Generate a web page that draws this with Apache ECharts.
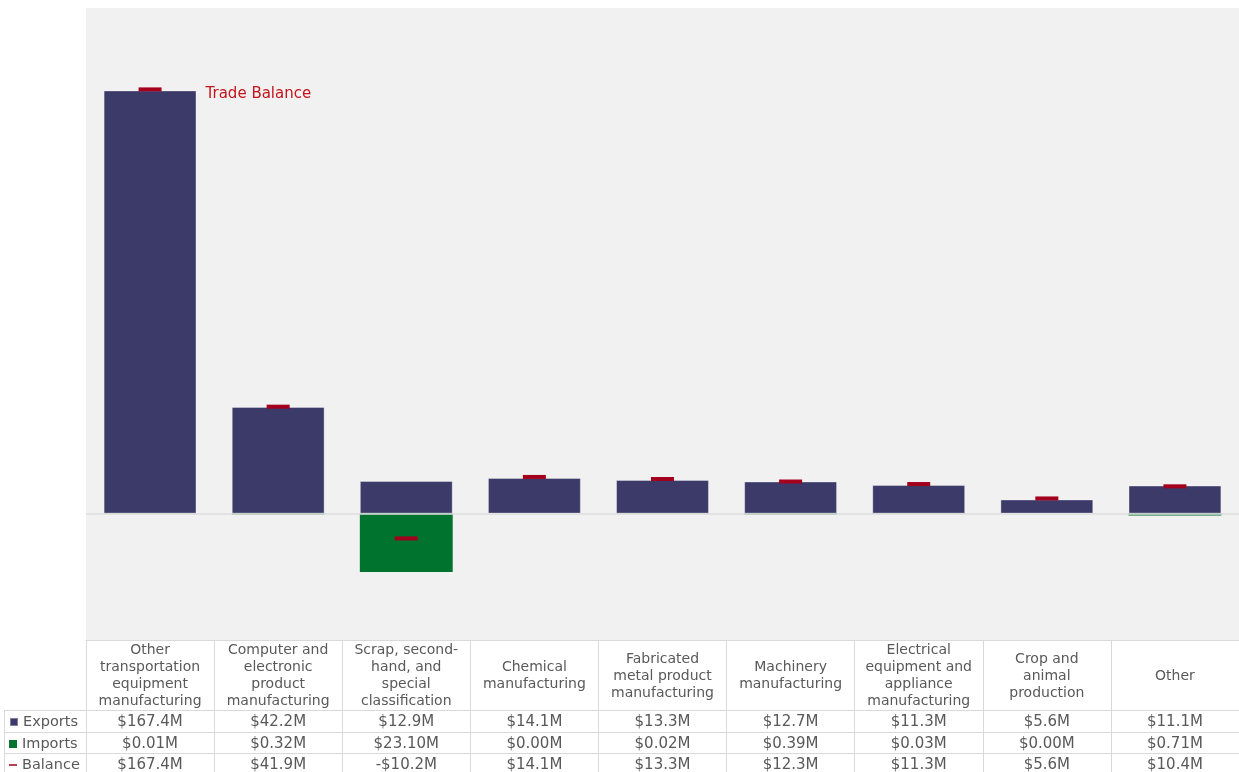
<!DOCTYPE html>
<html>
<head>
<meta charset="utf-8">
<script src="https://cdn.jsdelivr.net/npm/echarts@6/dist/echarts.min.js"></script>
<style>
  html, body { margin: 0; padding: 0; background: #ffffff; }
  #chart { width: 1239px; height: 772px; }
</style>
</head>
<body>
<div id="chart"></div>
<script>
// ---- Data ----
const categories = [
  'Other\ntransportation\nequipment\nmanufacturing',
  'Computer and\nelectronic\nproduct\nmanufacturing',
  'Scrap, second-\nhand, and\nspecial\nclassification',
  'Chemical\nmanufacturing',
  'Fabricated\nmetal product\nmanufacturing',
  'Machinery\nmanufacturing',
  'Electrical\nequipment and\nappliance\nmanufacturing',
  'Crop and\nanimal\nproduction',
  'Other'
];
const exportsM = [167.4, 42.2, 12.9, 14.1, 13.3, 12.7, 11.3, 5.6, 11.1];
const importsM = [0.01, 0.32, 23.10, 0.00, 0.02, 0.39, 0.03, 0.00, 0.71];
const balanceM = [167.4, 41.9, -10.2, 14.1, 13.3, 12.3, 11.3, 5.6, 10.4];
const seriesNames = ['Exports', 'Imports', 'Balance'];
const balanceLabel = 'Trade Balance';

// ---- Styles ----
const C_EXP = '#3b3a69';
const C_IMP = '#00732f';
const C_BAL = '#a3001e';
const C_LBL = '#c4141c';
const C_TXT = '#595959';
const C_LINE = '#d9d9d9';
const FONT = 'DejaVu Sans';

const fmt1 = v => (v < 0 ? '-$' : '$') + Math.abs(v).toFixed(1) + 'M';
const fmt2 = v => (v < 0 ? '-$' : '$') + Math.abs(v).toFixed(2) + 'M';

function rowAxis(offset, values, f) {
  return {
    type: 'category',
    data: categories,
    position: 'bottom',
    offset: offset,
    axisLine: { show: true, onZero: false, lineStyle: { color: C_LINE, width: 1 } },
    axisTick: { show: false },
    axisLabel: {
      interval: 0, margin: 12, verticalAlign: 'middle',
      fontFamily: FONT, fontSize: 15, color: C_TXT,
      formatter: (val, idx) => f(values[idx])
    },
    splitLine: { show: false }
  };
}

const legendIcons = [
  'rect',
  'rect',
  'path://M0,0h0.01v0.01h-0.01z M0,4h10v2h-10z M9.99,9.99h0.01v0.01h-0.01z'
];
const legendTops = [714, 736, 757];
const legends = seriesNames.map((n, i) => ({
  orient: 'vertical',
  left: 9, top: legendTops[i],
  padding: 0,
  itemWidth: 8, itemHeight: 8,
  selectedMode: false,
  textStyle: { fontFamily: FONT, fontSize: 14.5, color: C_TXT, lineHeight: 16 },
  data: [{ name: n, icon: legendIcons[i] }]
}));

const chart = echarts.init(document.getElementById('chart'), null, { renderer: 'canvas' });

const option = {
  animation: false,
  backgroundColor: '#ffffff',
  grid: {
    left: 86, right: 0, top: 8, bottom: 132,
    outerBoundsMode: 'none',
    containLabel: false,
    show: true, backgroundColor: '#f1f1f1', borderWidth: 0
  },
  legend: legends,
  xAxis: [
    {
      type: 'category',
      data: categories,
      position: 'bottom',
      axisLine: { show: true, onZero: false, lineStyle: { color: C_LINE, width: 1 } },
      axisTick: { show: true, length: 135, interval: 0, lineStyle: { color: C_LINE, width: 1 } },
      axisLabel: {
        interval: 0, margin: 36, verticalAlign: 'middle', align: 'center',
        fontFamily: FONT, fontSize: 14, lineHeight: 17, color: C_TXT
      },
      splitLine: { show: false }
    },
    rowAxis(70, exportsM, fmt1),
    rowAxis(92, importsM, fmt2),
    rowAxis(113, balanceM, fmt1)
  ],
  yAxis: {
    type: 'value', min: -50, max: 200, show: false,
    splitLine: { show: false }
  },
  series: [
    {
      name: seriesNames[0],
      type: 'bar',
      stack: 'trade',
      barWidth: '72.5%',
      data: exportsM,
      itemStyle: { color: C_EXP, borderColor: 'rgba(255,255,255,0.35)', borderWidth: 1 },
      markLine: {
        silent: true,
        symbol: 'none',
        label: { show: false },
        lineStyle: { color: '#dcdcdc', width: 1.5, type: 'solid' },
        data: [{ yAxis: 0 }]
      }
    },
    {
      name: seriesNames[1],
      type: 'bar',
      stack: 'trade',
      barWidth: '72.5%',
      data: importsM.map(v => -v),
      itemStyle: { color: C_IMP }
    },
    {
      name: seriesNames[2],
      type: 'scatter',
      symbol: 'rect',
      symbolSize: [23, 4],
      symbolOffset: [0, -1],
      itemStyle: { color: C_BAL, opacity: 1 },
      z: 6,
      data: balanceM.map((v, i) => i === 0 ? {
        value: v,
        label: {
          show: true, position: 'right', distance: 43,
          formatter: balanceLabel, fontFamily: FONT, fontSize: 15,
          color: C_LBL, offset: [1, 5]
        }
      } : v)
    }
  ],
  graphic: [
    { type: 'line', shape: { x1: 4, y1: 710.5, x2: 86, y2: 710.5 }, style: { stroke: C_LINE, lineWidth: 1 }, silent: true },
    { type: 'line', shape: { x1: 4, y1: 732.5, x2: 86, y2: 732.5 }, style: { stroke: C_LINE, lineWidth: 1 }, silent: true },
    { type: 'line', shape: { x1: 4, y1: 753.5, x2: 86, y2: 753.5 }, style: { stroke: C_LINE, lineWidth: 1 }, silent: true },
    { type: 'line', shape: { x1: 4.5, y1: 710, x2: 4.5, y2: 772 }, style: { stroke: C_LINE, lineWidth: 1 }, silent: true }
  ]
};

chart.setOption(option);
</script>
</body>
</html>
